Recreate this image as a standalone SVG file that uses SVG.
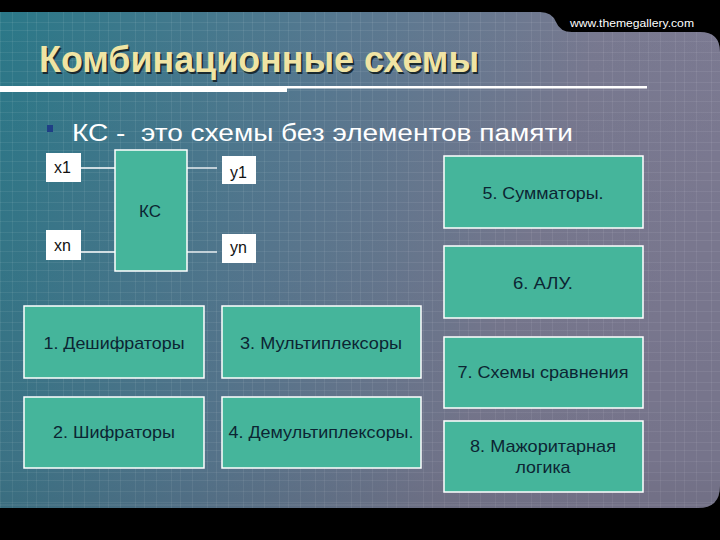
<svg xmlns="http://www.w3.org/2000/svg" width="720" height="540" viewBox="0 0 720 540">
<defs>
<linearGradient id="bg" x1="0" y1="0" x2="1" y2="0.25">
<stop offset="0" stop-color="#2a7888"/>
<stop offset="0.45" stop-color="#567890"/>
<stop offset="0.8" stop-color="#787990"/>
<stop offset="1" stop-color="#7c7a92"/>
</linearGradient>
<linearGradient id="vshade" x1="0" y1="0" x2="0" y2="1">
<stop offset="0" stop-color="#000" stop-opacity="0"/>
<stop offset="0.85" stop-color="#000" stop-opacity="0.05"/>
<stop offset="1" stop-color="#000" stop-opacity="0.12"/>
</linearGradient>
<pattern id="grid" width="36" height="30" patternUnits="userSpaceOnUse">
<path d="M0.5,0 V30 M12.5,0 V30 M27.5,0 V30 M0,0.5 H36 M0,11.5 H36 M0,22.5 H36" stroke="#ffffff" stroke-width="1" fill="none" stroke-opacity="0.07"/>
</pattern>
<clipPath id="pc"><path d="M0,12 H540 Q552,12 556,22 Q560,32 572,32 H700 Q720,32 720,52 V486 Q720,508 698,508 H0 Z"/></clipPath>
<style>
.box{fill:#45b59b;stroke:#ffffff;stroke-width:1.5}
.io{fill:#ffffff;stroke:none}
.t{font-family:"Liberation Sans",Arial,sans-serif;font-size:17px;fill:#0c2533;text-anchor:middle}
.io-t{font-family:"Liberation Sans",Arial,sans-serif;font-size:16px;fill:#111111}
.wire{stroke:#ffffff;stroke-width:1.3;fill:none}
</style>
</defs>
<rect x="0" y="0" width="720" height="540" fill="#000000"/>
<g clip-path="url(#pc)">
<rect x="0" y="0" width="720" height="540" fill="url(#bg)"/>
<rect x="0" y="0" width="720" height="540" fill="url(#grid)"/>
<rect x="0" y="0" width="720" height="540" fill="url(#vshade)"/>
<path d="M0,505 H720" stroke="#ffffff" stroke-opacity="0.12" stroke-width="1"/>
</g>
<text x="570" y="27" font-family="'Liberation Sans',Arial,sans-serif" font-size="11" fill="#ffffff" textLength="124" lengthAdjust="spacingAndGlyphs">www.themegallery.com</text>
<g id="title">
<text x="40.5" y="73.5" font-family="'Liberation Sans',Arial,sans-serif" font-size="36" font-weight="bold" fill="#1a2a30" textLength="440" lengthAdjust="spacingAndGlyphs">Комбинационные схемы</text>
<text x="39" y="72" font-family="'Liberation Sans',Arial,sans-serif" font-size="36" font-weight="bold" fill="#f0e4a4" textLength="440" lengthAdjust="spacingAndGlyphs">Комбинационные схемы</text>
<rect x="0" y="86" width="287" height="6" fill="#ffffff"/>
<rect x="287" y="86" width="360" height="2.5" fill="#ffffff"/>
</g>
<g id="bullet">
<rect x="47" y="125" width="6" height="7" fill="#1f3f86"/>
<text x="72" y="141" font-family="'Liberation Sans',Arial,sans-serif" font-size="23.5" fill="#ffffff" textLength="501" lengthAdjust="spacingAndGlyphs" xml:space="preserve">КС -  это схемы без элементов памяти</text>
</g>
<g id="connectors">
<line class="wire" x1="81" y1="168" x2="115" y2="168"/>
<line class="wire" x1="81" y1="252" x2="115" y2="252"/>
<line class="wire" x1="187" y1="168" x2="217" y2="168"/>
<line class="wire" x1="187" y1="252" x2="217" y2="252"/>
</g>
<g id="kc">
<rect class="box" x="115" y="150" width="72" height="121"/>
<text class="t" x="150" y="217" font-size="16">КС</text>
</g>
<g id="x1">
<rect class="io" x="46" y="153" width="35" height="29"/>
<text class="io-t" x="54" y="173">x1</text>
</g>
<g id="xn">
<rect class="io" x="46" y="230" width="35" height="30"/>
<text class="io-t" x="54" y="251">xn</text>
</g>
<g id="y1">
<rect class="io" x="222" y="156" width="34" height="28"/>
<text class="io-t" x="230" y="178">y1</text>
</g>
<g id="yn">
<rect class="io" x="222" y="234" width="34" height="29"/>
<text class="io-t" x="230" y="253">yn</text>
</g>
<g id="n1">
<rect class="box" x="24" y="306" width="180" height="72"/>
<text class="t" x="114" y="349" textLength="141" lengthAdjust="spacingAndGlyphs">1. Дешифраторы</text>
</g>
<g id="n2">
<rect class="box" x="24" y="397" width="180" height="71"/>
<text class="t" x="114" y="438" textLength="122" lengthAdjust="spacingAndGlyphs">2. Шифраторы</text>
</g>
<g id="n3">
<rect class="box" x="222" y="306" width="199" height="72"/>
<text class="t" x="321" y="349" textLength="162" lengthAdjust="spacingAndGlyphs">3. Мультиплексоры</text>
</g>
<g id="n4">
<rect class="box" x="222" y="397" width="199" height="71"/>
<text class="t" x="321" y="438" textLength="185" lengthAdjust="spacingAndGlyphs">4. Демультиплексоры.</text>
</g>
<g id="n5">
<rect class="box" x="444" y="156" width="199" height="72"/>
<text class="t" x="543" y="199" textLength="121" lengthAdjust="spacingAndGlyphs">5. Сумматоры.</text>
</g>
<g id="n6">
<rect class="box" x="444" y="246" width="199" height="72"/>
<text class="t" x="543" y="289" textLength="60" lengthAdjust="spacingAndGlyphs">6. АЛУ.</text>
</g>
<g id="n7">
<rect class="box" x="444" y="337" width="199" height="71"/>
<text class="t" x="543" y="378" textLength="171" lengthAdjust="spacingAndGlyphs">7. Схемы сравнения</text>
</g>
<g id="n8">
<rect class="box" x="444" y="421" width="199" height="71"/>
<text class="t" x="543" y="452" textLength="146" lengthAdjust="spacingAndGlyphs">8. Мажоритарная</text>
<text class="t" x="543" y="473" textLength="55" lengthAdjust="spacingAndGlyphs">логика</text>
</g>
</svg>
